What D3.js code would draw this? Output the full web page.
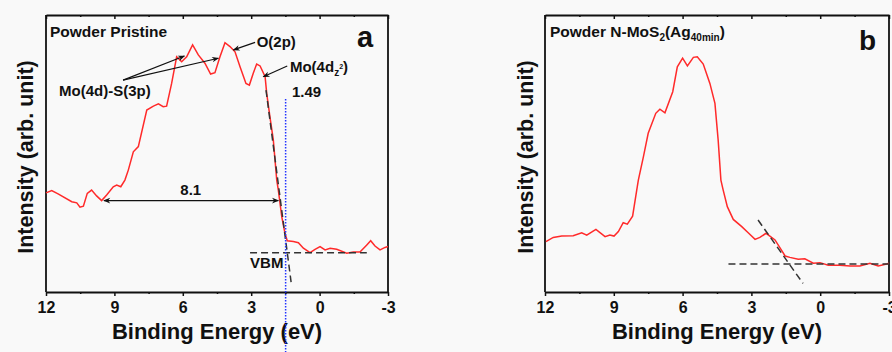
<!DOCTYPE html>
<html>
<head>
<meta charset="utf-8">
<script src="https://cdn.jsdelivr.net/npm/d3@7"></script>
<style>
  body { margin: 0; background: #f9f9f9; }
  svg { display: block; font-family: "Liberation Sans", Arial, sans-serif; font-weight: bold; }
</style>
</head>
<body>
<svg id="chart" width="892" height="352"></svg>
<script>
// binding energy (eV) / intensity (arb.)
const energyA = [12.00, 11.75, 11.47, 10.87, 10.65, 10.51, 10.36, 10.19, 10.00, 9.78, 9.56, 9.34, 9.05, 8.90, 8.72, 8.54, 8.39, 8.17, 7.95, 7.58, 7.29, 7.07, 6.86, 6.71, 6.49, 6.27, 6.05, 5.83, 5.57, 5.32, 5.03, 4.78, 4.59, 4.37, 4.15, 3.93, 3.71, 3.49, 3.23, 3.08, 2.91, 2.76, 2.61, 2.39, 2.32, 2.18, 2.03, 1.88, 1.81, 1.66, 1.52, 1.42, 1.15, 0.93, 0.71, 0.42, 0.20, -0.02, -0.24, -0.46, -0.75, -1.19, -1.48, -1.77, -2.07, -2.24, -2.43, -2.65, -2.87, -3.00];
const intensityA = [35.8, 36.6, 35.4, 32.6, 32.2, 30.6, 31.0, 35.6, 36.8, 34.7, 33.0, 35.0, 38.0, 38.6, 38.0, 40.4, 44.0, 50.6, 52.5, 65.7, 67.1, 67.9, 66.9, 67.1, 75.3, 84.9, 83.1, 84.9, 89.2, 85.6, 82.6, 78.7, 79.2, 84.9, 90.0, 88.6, 86.7, 81.3, 75.3, 74.7, 79.0, 82.3, 81.6, 77.7, 71.7, 63.3, 54.9, 40.4, 36.8, 27.2, 21.2, 18.5, 18.2, 17.8, 15.8, 14.2, 15.4, 16.4, 15.2, 15.8, 15.4, 14.0, 14.4, 14.4, 17.0, 18.5, 16.6, 15.2, 16.1, 16.4];

const energyB = [11.96, 11.64, 11.27, 10.77, 10.40, 10.18, 9.78, 9.38, 9.17, 8.99, 8.80, 8.59, 8.41, 8.18, 8.00, 7.93, 7.71, 7.50, 7.17, 6.99, 6.77, 6.43, 6.23, 6.00, 5.79, 5.53, 5.36, 5.10, 4.81, 4.59, 4.45, 4.33, 4.23, 4.05, 3.79, 3.42, 3.14, 2.84, 2.63, 2.36, 1.97, 1.53, 1.32, 0.96, 0.67, 0.30, 0.01, -0.35, -0.86, -1.30, -1.73, -2.17, -2.53, -2.90, -3.00];
const intensityB = [18.2, 19.7, 20.2, 20.3, 21.4, 20.5, 22.6, 20.0, 20.6, 20.2, 21.8, 25.0, 24.5, 27.4, 36.8, 40.4, 48.8, 57.3, 64.5, 66.0, 64.7, 72.3, 81.3, 84.4, 81.6, 84.7, 84.9, 82.3, 75.3, 68.1, 54.9, 40.4, 36.8, 30.8, 26.2, 23.6, 21.4, 19.0, 19.7, 21.2, 18.8, 13.0, 12.5, 11.8, 12.0, 10.4, 10.6, 9.7, 9.7, 9.4, 9.4, 10.4, 9.4, 10.1, 10.4];

// axis ticks
const majorTicks = [12, 9, 6, 3, 0, -3];
const minorTicks = [10.5, 7.5, 4.5, 1.5, -1.5];

// guide lines [energy, intensity] pairs
const tangentA = [[2.35, 72.9], [1.25, 3.6]];
const baselineA = [[3.05, 14.2], [-2.07, 14.2]];
const tangentB = [[2.71, 26.0], [0.75, 3.1]];
const baselineB = [[4.00, 10.1], [-3.00, 10.1]];
const vbmA = 1.49;
const gapArrow = [[9.46, 33.0], [1.81, 33.0]];

const svg = d3.select("#chart");

svg.append("defs").append("marker")
  .attr("id", "head")
  .attr("viewBox", "0 0 10 10")
  .attr("refX", 9).attr("refY", 5)
  .attr("markerWidth", 9).attr("markerHeight", 7)
  .attr("markerUnits", "userSpaceOnUse")
  .attr("orient", "auto-start-reverse")
  .append("path")
  .attr("d", "M0,1 L10,5 L0,9 L3,5 Z")
  .attr("fill", "#111");

const drawPanel = (left, right, energy, intensity, yTitleX) => {
  const x = d3.scaleLinear().domain([12, -3]).range([left, right]);
  const y = d3.scaleLinear().domain([0, 100]).range([292, 15]);
  const g = svg.append("g");

  // bottom axis, outward ticks
  g.append("g")
    .attr("transform", `translate(0,${y(0)})`)
    .call(d3.axisBottom(x).tickValues(minorTicks).tickSize(2).tickFormat(""))
    .call(a => a.select(".domain").remove());
  g.append("g")
    .attr("transform", `translate(0,${y(0)})`)
    .call(d3.axisBottom(x).tickValues(majorTicks).tickSize(4).tickSizeOuter(0).tickPadding(6)
      .tickFormat(d => String(d)))
    .call(a => a.selectAll("text").attr("font-size", 16).attr("font-weight", "bold")
      .attr("font-family", "'Liberation Sans', Arial, sans-serif").attr("fill", "#111"));

  // top axis, ticks pointing in
  g.append("g")
    .attr("transform", `translate(0,${y(100)})`)
    .call(d3.axisTop(x).tickValues(minorTicks).tickSize(-2).tickFormat(""))
    .call(a => a.select(".domain").remove());
  g.append("g")
    .attr("transform", `translate(0,${y(100)})`)
    .call(d3.axisTop(x).tickValues(majorTicks).tickSize(-4).tickSizeOuter(0).tickFormat(""));

  g.selectAll(".tick line").attr("stroke", "#111").attr("stroke-width", 1.5);
  g.selectAll(".domain").attr("stroke", "#111").attr("stroke-width", 1.8);

  // left / right frame
  [x.range()[0], x.range()[1]].forEach(px => {
    g.append("line")
      .attr("x1", px).attr("x2", px)
      .attr("y1", y(100)).attr("y2", y(0))
      .attr("stroke", "#111").attr("stroke-width", 1.8);
  });

  g.append("path")
    .datum(d3.zip(energy, intensity))
    .attr("fill", "none")
    .attr("stroke", "#ff2a2a")
    .attr("stroke-width", 1.5)
    .attr("d", d3.line().x(d => x(d[0])).y(d => y(d[1])));

  g.append("text")
    .attr("x", (x.range()[0] + x.range()[1]) / 2)
    .attr("y", 339)
    .attr("text-anchor", "middle")
    .attr("font-size", 22)
    .attr("fill", "#111")
    .text("Binding Energy (eV)");

  g.append("text")
    .attr("transform", `translate(${yTitleX},157) rotate(-90)`)
    .attr("text-anchor", "middle")
    .attr("font-size", 21.5)
    .attr("fill", "#111")
    .text("Intensity (arb. unit)");

  return { g, x, y };
};

const dashed = (g, x, y, pts) => {
  g.append("path")
    .datum(pts)
    .attr("fill", "none")
    .attr("stroke", "#333")
    .attr("stroke-width", 1.5)
    .attr("stroke-dasharray", "7,4")
    .attr("d", d3.line().x(d => x(d[0])).y(d => y(d[1])));
};

const label = (g, px, py, size, txt) =>
  g.append("text").attr("x", px).attr("y", py).attr("font-size", size).attr("fill", "#111").text(txt);

const arrow = (g, x, y, from, to, both) => {
  g.append("line")
    .attr("x1", x(from[0])).attr("y1", y(from[1]))
    .attr("x2", x(to[0])).attr("y2", y(to[1]))
    .attr("stroke", "#111").attr("stroke-width", 1.2)
    .attr("marker-end", "url(#head)")
    .attr("marker-start", both ? "url(#head)" : null);
};

// ---- panel a
const A = drawPanel(46, 388, energyA, intensityA, 33);
dashed(A.g, A.x, A.y, tangentA);
dashed(A.g, A.x, A.y, baselineA);

A.g.append("line")
  .attr("x1", A.x(vbmA)).attr("x2", A.x(vbmA))
  .attr("y1", A.y(69.7)).attr("y2", A.y(0) + 60)
  .attr("stroke", "#2233ff").attr("stroke-width", 1.5)
  .attr("stroke-dasharray", "1.5,1.5");

arrow(A.g, A.x, A.y, gapArrow[0], gapArrow[1], true);
label(A.g, A.x(5.65), A.y(35.0), 15, "8.1").attr("text-anchor", "middle");
label(A.g, A.x(3.05), A.y(8.7), 15, "VBM");
label(A.g, A.x(1.21), A.y(70.4), 15, "1.49");

label(A.g, A.x(11.43), A.y(70.8), 15, "Mo(4d)-S(3p)");
arrow(A.g, A.x, A.y, [8.62, 76.5], [5.93, 85.2]);
arrow(A.g, A.x, A.y, [8.62, 76.5], [4.44, 84.4]);

label(A.g, A.x(2.76), A.y(88.4), 15, "O(2p)");
arrow(A.g, A.x, A.y, [2.83, 90.1], [3.78, 87.4]);

const mo = label(A.g, A.x(1.30), A.y(79.4), 15, "Mo(4d");
mo.append("tspan").attr("font-size", 10).attr("dy", 4).text("z");
mo.append("tspan").attr("font-size", 7).attr("dy", -7).text("2");
mo.append("tspan").attr("dy", 3).text(")");
arrow(A.g, A.x, A.y, [1.42, 81.6], [2.47, 77.7]);

label(A.g, 50, 36.5, 15.5, "Powder Pristine");
label(A.g, 357, 47, 29, "a");

// ---- panel b
const B = drawPanel(545, 889, energyB, intensityB, 533);
dashed(B.g, B.x, B.y, tangentB);
dashed(B.g, B.x, B.y, baselineB);

const tb = label(B.g, 550, 36.5, 15.5, "Powder N-MoS");
tb.append("tspan").attr("font-size", 10).attr("dy", 4).text("2");
tb.append("tspan").attr("dy", -4).text("(Ag");
tb.append("tspan").attr("font-size", 10).attr("dy", 4).text("40min");
tb.append("tspan").attr("dy", -4).text(")");
label(B.g, 859, 50, 28, "b");
</script>
</body>
</html>
